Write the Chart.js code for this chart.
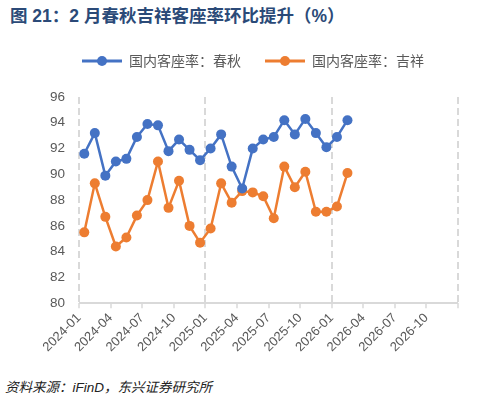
<!DOCTYPE html>
<html>
<head>
<meta charset="utf-8">
<script src="https://cdn.jsdelivr.net/npm/chart.js@4.4.1/dist/chart.umd.min.js"></script>
<style>
  html, body { margin: 0; padding: 0; background: #fff; }
  body { width: 490px; height: 401px; position: relative; overflow: hidden; font-family: "Liberation Sans", "Noto Sans CJK SC", sans-serif; }
  #title { position: absolute; left: 10px; top: 2px; font-size: 17.5px; font-weight: bold; color: #2b4a78; white-space: nowrap; font-family: "Liberation Sans", "Noto Sans CJK SC", sans-serif; }
  #source { position: absolute; left: 5px; top: 376px; font-size: 13.5px; font-style: italic; color: #222; white-space: nowrap; font-family: "Liberation Sans", "Noto Sans CJK SC", sans-serif; }
  #wrap { position: absolute; left: 0; top: 30px; width: 490px; height: 327px; }
</style>
</head>
<body>
<div id="title">图 21：2 月春秋吉祥客座率环比提升（%）</div>
<div id="wrap"><canvas id="lineChart"></canvas></div>
<div id="source">资料来源：iFinD，东兴证券研究所</div>
<script>
const months = [
  '2024-01', '2024-02', '2024-03', '2024-04', '2024-05', '2024-06',
  '2024-07', '2024-08', '2024-09', '2024-10', '2024-11', '2024-12',
  '2025-01', '2025-02', '2025-03', '2025-04', '2025-05', '2025-06',
  '2025-07', '2025-08', '2025-09', '2025-10', '2025-11', '2025-12',
  '2026-01', '2026-02'
];
const springAir = [
  91.6, 93.2, 89.9, 91.0, 91.2, 92.9, 93.9, 93.8, 91.8, 92.7, 91.9, 91.1,
  92.0, 93.1, 90.6, 88.9, 92.0, 92.7, 92.9, 94.2, 93.1, 94.3, 93.2, 92.1,
  92.9, 94.2
];
const juneyao = [
  85.5, 89.3, 86.7, 84.4, 85.1, 86.8, 88.0, 91.0, 87.4, 89.5, 86.0, 84.7,
  85.8, 89.3, 87.8, 88.7, 88.6, 88.3, 86.6, 90.6, 89.0, 90.2, 87.1, 87.1,
  87.5, 90.1
];
const tickLabels = [
  '2024-01', '2024-04', '2024-07', '2024-10', '2025-01', '2025-04',
  '2025-07', '2025-10', '2026-01', '2026-04', '2026-07', '2026-10'
];

// month label -> position on the axis (middle of the month)
function monthPos(label) {
  const [y, m] = label.split('-').map(Number);
  return (y - 2024) * 12 + (m - 1) + 0.5;
}

// line + dot marker for the legend
function legendMark(color) {
  const c = document.createElement('canvas');
  c.width = 40; c.height = 12;
  const g = c.getContext('2d');
  g.strokeStyle = color; g.lineWidth = 3;
  g.beginPath(); g.moveTo(0, 6); g.lineTo(40, 6); g.stroke();
  g.fillStyle = color;
  g.beginPath(); g.arc(20, 6, 5, 0, Math.PI * 2); g.fill();
  return c;
}

// extra room under the legend, and nudge it a little right
const legendGap = {
  id: 'legendGap',
  beforeInit(chart) {
    const fit = chart.legend.fit;
    chart.legend.fit = function () {
      fit.call(this);
      this.height += 19;
    };
  },
  beforeDraw(chart) {
    const lg = chart.legend;
    if (lg && lg.legendHitBoxes && !lg._nudged) {
      lg._nudged = true;
      lg.left += 6; lg.right += 6;
      lg.legendHitBoxes.forEach(b => { b.left += 6; });
    }
  }
};

const gray = '#595959';
const gridGray = '#d9d9d9';

document.addEventListener('DOMContentLoaded', () => {
  const canvas = document.getElementById('lineChart');
  const series = [
    { label: '国内客座率：春秋', values: springAir, color: '#4472c4' },
    { label: '国内客座率：吉祥', values: juneyao, color: '#ed7d31' }
  ];

  new Chart(canvas.getContext('2d'), {
    type: 'line',
    plugins: [legendGap],
    data: {
      datasets: series.map(s => ({
        label: s.label,
        data: s.values.map((v, i) => ({ x: monthPos(months[i]), y: v })),
        borderColor: s.color,
        backgroundColor: s.color,
        pointBackgroundColor: s.color,
        pointBorderColor: s.color,
        pointStyle: 'circle',
        pointRadius: 5,
        pointBorderWidth: 0,
        borderWidth: 2.5,
        tension: 0
      }))
    },
    options: {
      responsive: true,
      maintainAspectRatio: false,
      animation: false,
      layout: { padding: { left: 36, right: 32, top: 0, bottom: 0 } },
      plugins: {
        tooltip: { enabled: false },
        legend: {
          position: 'top',
          labels: {
            usePointStyle: true,
            pointStyleWidth: 40,
            padding: 24,
            color: gray,
            font: { size: 14, family: '"Noto Sans CJK SC", sans-serif' },
            generateLabels: chart => chart.data.datasets.map((ds, i) => ({
              text: ds.label,
              pointStyle: legendMark(ds.borderColor),
              fillStyle: ds.borderColor,
              strokeStyle: ds.borderColor,
              lineWidth: 0,
              fontColor: gray,
              datasetIndex: i,
              hidden: false
            }))
          }
        }
      },
      scales: {
        x: {
          type: 'linear',
          min: 0,
          max: 36,
          afterBuildTicks: scale => {
            scale.ticks = tickLabels.map((t, i) => ({ value: i * 3 })).concat([{ value: 36 }]);
          },
          ticks: {
            autoSkip: false,
            minRotation: 45,
            maxRotation: 45,
            padding: 2,
            color: gray,
            font: { size: 13, family: '"Liberation Sans", sans-serif' },
            callback: v => tickLabels[v / 3] || ''
          },
          grid: {
            color: ctx => (ctx.tick && ctx.tick.value % 12 === 0) ? gridGray : 'rgba(0,0,0,0)',
            lineWidth: 2,
            drawTicks: true,
            tickLength: 5,
            tickColor: gridGray,
            tickWidth: 1.5,
            tickBorderDash: []
          },
          border: { display: true, width: 0, dash: [7, 4] }
        },
        y: {
          min: 80,
          max: 96,
          ticks: {
            stepSize: 2,
            padding: 14,
            color: gray,
            font: { size: 13.5, family: '"Liberation Sans", sans-serif' }
          },
          grid: {
            color: ctx => (ctx.tick && ctx.tick.value === 80) ? gridGray : 'rgba(0,0,0,0)',
            lineWidth: 2,
            drawTicks: false
          },
          border: { display: false }
        }
      }
    }
  });
});
</script>
</body>
</html>
